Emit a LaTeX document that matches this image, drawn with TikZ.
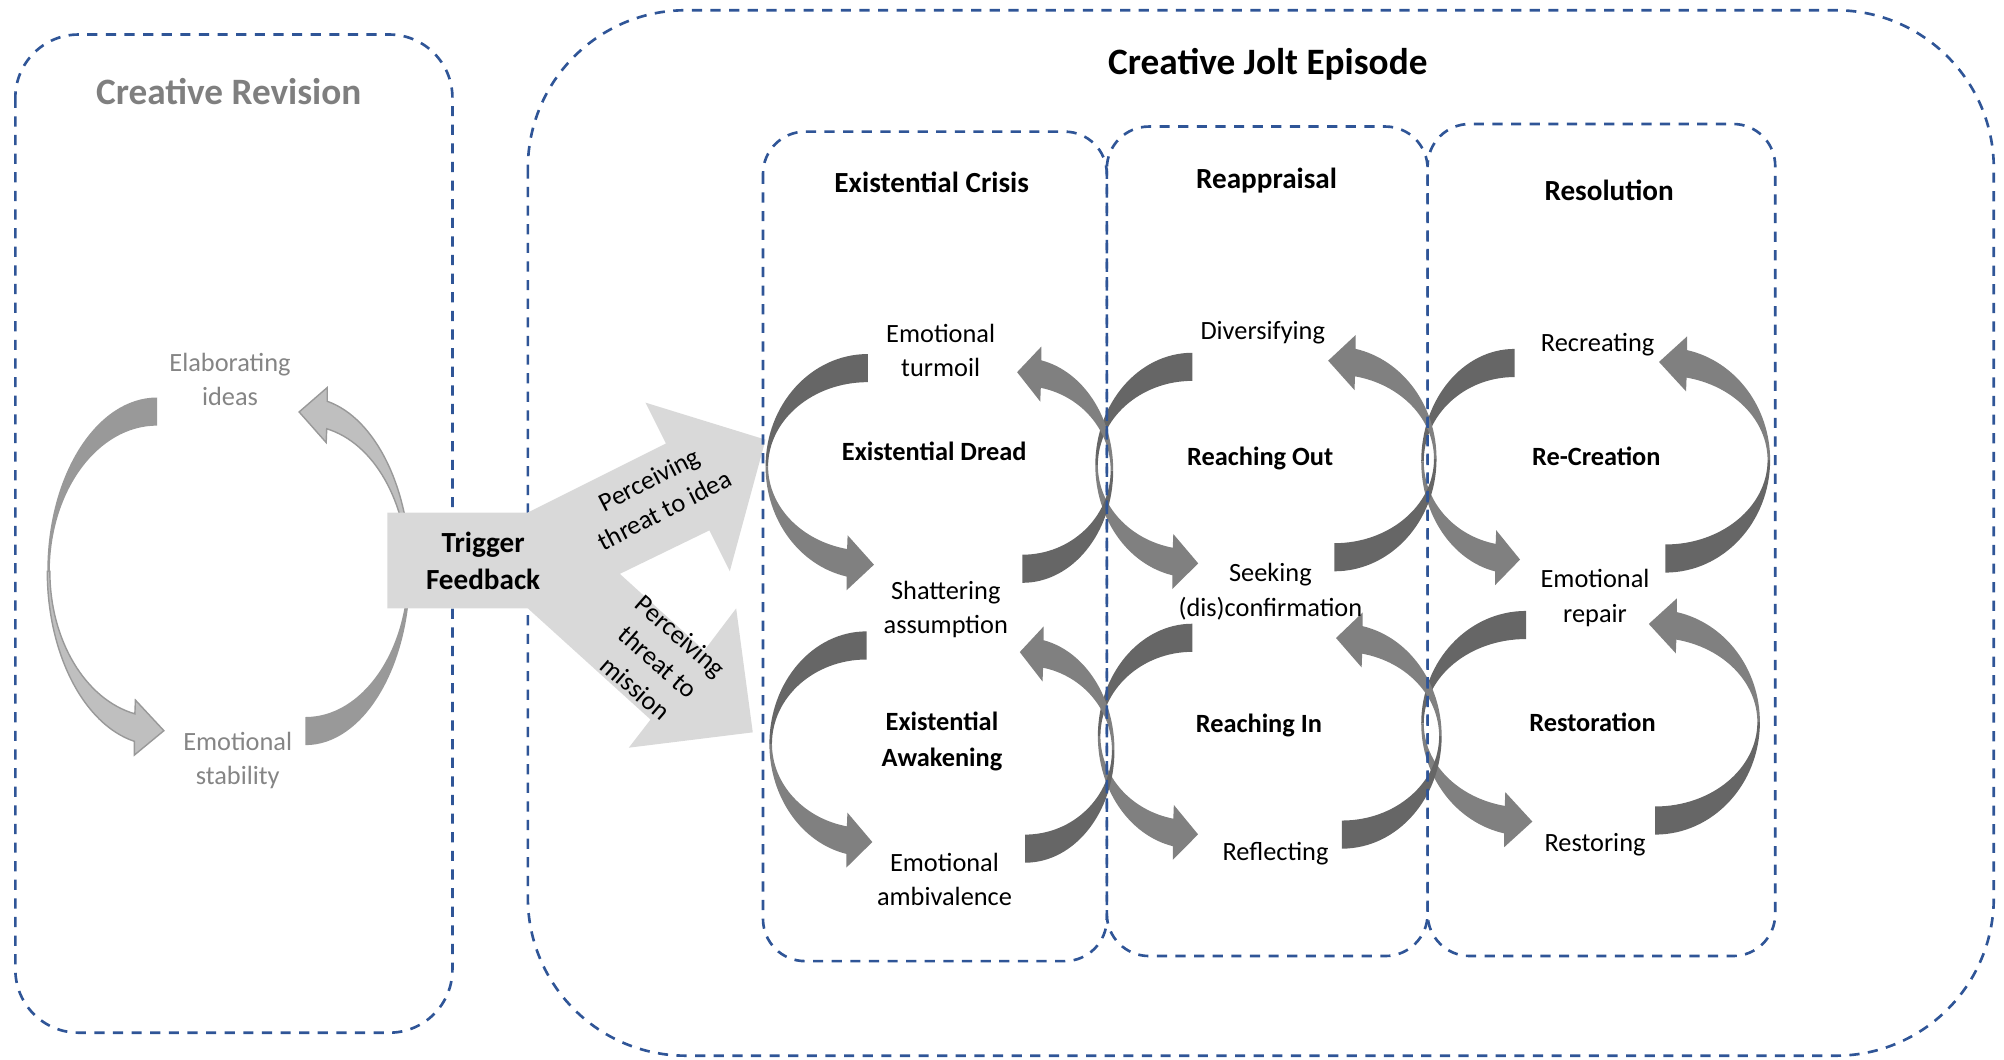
\documentclass[tikz,border=0pt]{standalone}
\usepackage{fontspec}
\setmainfont{Carlito}
\definecolor{Frame}{HTML}{2F5597}
\definecolor{Ribbon}{HTML}{666666}
\definecolor{RibbonLight}{HTML}{808080}
\definecolor{Faded}{HTML}{999999}
\definecolor{FadedLight}{HTML}{BFBFBF}
\definecolor{TriggerGray}{HTML}{D9D9D9}
\definecolor{GrayText}{HTML}{858585}
\definecolor{GrayTitle}{HTML}{7F7F7F}

\tikzset{
  frame/.style={draw=Frame, line width=0.75pt, dash pattern=on 2.9pt off 2.4pt},
  heading/.style={font=\bfseries\fontsize{10.6}{12.7}\selectfont},
  phase/.style={font=\bfseries\fontsize{8.3}{10}\selectfont},
  stage/.style={font=\bfseries\fontsize{7.5}{10.2}\selectfont, align=center},
  item/.style={font=\fontsize{7.5}{9.8}\selectfont, align=center},
  trigger label/.style={font=\bfseries\fontsize{8.3}{10.5}\selectfont, align=center},
}

% twisted circular arrow: centre, turn, x radius, y radius, tail colour, head colour
\newcommand{\twistarrow}[6]{%
  \begin{scope}[shift={#1}, rotate=#2]
    \fill[#5] (270:#3 and #4) arc[start angle=270, end angle=180, x radius=#3, y radius=#4]
      -- (180:#3-2 and #4-22) arc[start angle=180, end angle=270, x radius=#3-2, y radius=#4-22] -- cycle;
    \fill[#6] (180:#3 and #4) arc[start angle=180, end angle=102, x radius=#3, y radius=#4]
      -- (102:#3 and #4+11) -- (86:#3-11 and #4-11) -- (102:#3-4 and #4-33)
      -- (102:#3-2 and #4-22) arc[start angle=102, end angle=180, x radius=#3-2, y radius=#4-22] -- cycle;
  \end{scope}}

\begin{document}
\begin{tikzpicture}[x=0.01278cm, y=-0.01278cm]
\useasboundingbox (0,0) rectangle (1568,829);

% outer panels
\draw[frame, rounded corners=18pt] (12,27) rectangle (354,808);
\draw[frame, rounded corners=45pt] (413,8) rectangle (1560,826);

% revision loop
\twistarrow{(123,447)}{0}{86}{136}{Faded}{{FadedLight, draw=Faded, line width=0.4pt}}
\twistarrow{(239,447)}{180}{82}{136}{Faded}{{FadedLight, draw=Faded, line width=0.4pt}}

% trigger block with the two threat arrows
\fill[TriggerGray] (303,401) -- (413,401) -- (521,347) -- (505,315) -- (599,344) -- (571,447)
  -- (555,415) -- (485,449) -- (551,509) -- (576,476) -- (589,573) -- (492,585)
  -- (509,563) -- (413,476) -- (303,476) -- cycle;

% jolt loops, right column first
\foreach \lx/\ly/\lr/\rx/\ry/\rr in {1185/361/73/1303/360/82, 1194/566/82/1295/565/82,
    933/364/76/1044/359/80, 933/576/74/1050/576/78, 679/365/80/800/368/71, 678/582/76/802/587/70}{
  \twistarrow{(\lx,\ly)}{0}{\lr}{88}{Ribbon}{RibbonLight}
  \twistarrow{(\rx,\ry)}{180}{\rr}{88}{Ribbon}{RibbonLight}
}

% phase panels
\draw[frame, rounded corners=12pt] (597,103) rectangle (866,752);
\draw[frame, rounded corners=12pt] (866,99) rectangle (1117,748);
\draw[frame, rounded corners=12pt, dash phase=2.6pt] (1117,97) rectangle (1389,748);

% titles
\node[heading, text=GrayTitle] (revision) at (179,72) {Creative Revision};
\node[heading] (jolt) at (992,50) {Creative Jolt Episode};
\node[phase] (crisis) at (729,143) {Existential Crisis};
\node[phase] (reappraisal) at (991,141) {Reappraisal};
\node[phase] (resolution) at (1259,149) {Resolution};

% revision loop labels
\node[item, text=GrayText] (elaborating) at (180,297) {Elaborating\\ideas};
\node[item, text=GrayText] (stability) at (186,595) {Emotional\\stability};

% trigger labels
\node[trigger label] (trigger) at (378,439) {Trigger\\Feedback};
\node[item, rotate=27] (idea) at (514,387) {Perceiving\\threat to idea};
\node[item, rotate=-41] (mission) at (515,518) {Perceiving\\threat to\\mission};

% existential crisis
\node[item] (turmoil) at (736,274) {Emotional\\turmoil};
\node[stage] (dread) at (731,353) {Existential Dread};
\node[item] (shattering) at (740,477) {Shattering\\assumption};
\node[stage] (awakening) at (737,580) {Existential\\Awakening};
\node[item] (ambivalence) at (739,688) {Emotional\\ambivalence};

% reappraisal
\node[item] (diversifying) at (988,260) {Diversifying};
\node[stage] (out) at (986,359) {Reaching Out};
\node[item] (seeking) at (994,463) {Seeking\\(dis)confirmation};
\node[stage] (in) at (985,568) {Reaching In};
\node[item] (reflecting) at (998,668) {Reflecting};

% resolution
\node[item] (recreating) at (1250,270) {Recreating};
\node[stage] (recreation) at (1249,357) {Re-Creation};
\node[item] (repair) at (1248,468) {Emotional\\repair};
\node[stage] (restoration) at (1246,565) {Restoration};
\node[item] (restoring) at (1248,661) {Restoring};
\end{tikzpicture}
\end{document}
